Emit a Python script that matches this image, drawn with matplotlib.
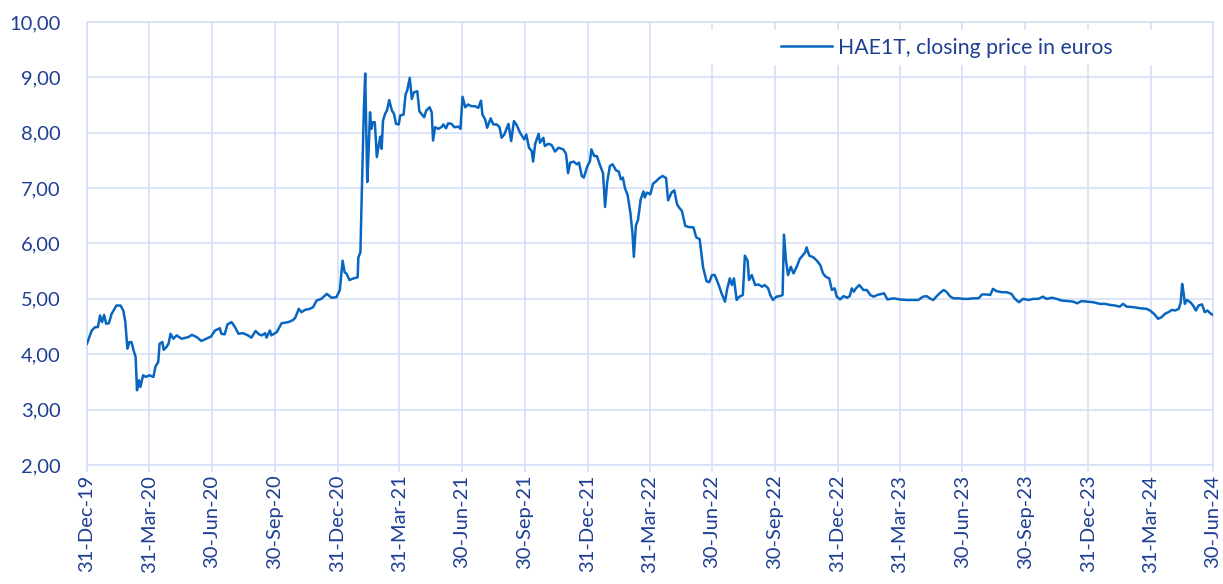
import numpy as np
import pandas as pd
import matplotlib
matplotlib.use("Agg")
import matplotlib.pyplot as plt
import matplotlib.dates as mdates
from matplotlib.patches import Rectangle
from matplotlib.ticker import FuncFormatter

# Days since 31-Dec-2019 and closing price (EUR)
days = [0, 7, 12, 16, 19, 22, 25, 28, 32, 36, 43, 49, 53, 56, 59, 62, 65, 68, 71, 73,
        76, 78, 82, 86, 91, 97, 100, 104, 106, 110, 112, 116, 119, 122, 126, 131, 138, 148, 153, 160,
        167, 174, 181, 187, 194, 196, 201, 205, 211, 216, 221, 228, 235, 240, 246, 251, 255, 260, 262, 267,
        269, 277, 284, 294, 301, 304, 309, 313, 318, 325, 330, 335, 342, 350, 357, 364, 369, 373, 376, 379,
        383, 389, 395, 396, 399, 401, 404, 406, 409, 411, 413, 415, 417, 420, 423, 426, 428, 430, 432, 435,
        438, 441, 445, 448, 451, 455, 457, 462, 465, 467, 471, 474, 477, 482, 485, 488, 492, 495, 500, 503,
        505, 508, 513, 518, 520, 524, 527, 532, 536, 542, 545, 548, 552, 556, 561, 566, 571, 575, 577, 581,
        584, 589, 593, 598, 602, 605, 609, 615, 619, 623, 627, 632, 638, 641, 645, 649, 651, 654, 659, 661,
        666, 668, 673, 678, 683, 688, 695, 699, 702, 705, 710, 715, 718, 722, 725, 730, 734, 736, 740, 744,
        749, 753, 756, 759, 763, 767, 772, 776, 779, 782, 785, 789, 793, 796, 798, 801, 804, 808, 812, 814,
        817, 822, 826, 831, 835, 840, 845, 848, 853, 857, 861, 864, 868, 873, 877, 885, 889, 894, 896, 899,
        904, 908, 912, 916, 921, 926, 931, 934, 938, 941, 944, 948, 952, 957, 960, 964, 966, 970, 975, 980,
        985, 989, 994, 997, 1001, 1006, 1011, 1015, 1017, 1020, 1023, 1027, 1031, 1036, 1040, 1044, 1048, 1050, 1054, 1060,
        1065, 1070, 1074, 1078, 1083, 1087, 1091, 1094, 1099, 1104, 1109, 1113, 1116, 1119, 1122, 1127, 1133, 1138, 1143, 1148,
        1153, 1160, 1163, 1168, 1177, 1186, 1196, 1206, 1213, 1220, 1225, 1231, 1235, 1240, 1245, 1250, 1254, 1259, 1264, 1271,
        1279, 1286, 1293, 1301, 1306, 1313, 1318, 1322, 1327, 1335, 1342, 1349, 1354, 1360, 1366, 1374, 1381, 1388, 1395, 1400,
        1408, 1415, 1422, 1432, 1439, 1445, 1451, 1460, 1468, 1478, 1485, 1493, 1500, 1507, 1512, 1517, 1527, 1537, 1546, 1551,
        1557, 1563, 1568, 1573, 1578, 1583, 1588, 1593, 1596, 1598, 1600, 1602, 1605, 1610, 1614, 1618, 1622, 1627, 1631, 1635,
        1639, 1643]
price = [4.19, 4.43, 4.49, 4.49, 4.70, 4.58, 4.71, 4.55, 4.56, 4.73, 4.88, 4.88, 4.79, 4.58, 4.10, 4.22, 4.22, 4.07, 3.95, 3.35,
         3.53, 3.41, 3.62, 3.59, 3.62, 3.59, 3.78, 3.86, 4.19, 4.22, 4.08, 4.13, 4.19, 4.37, 4.28, 4.34, 4.28, 4.31, 4.35, 4.31,
         4.24, 4.28, 4.32, 4.43, 4.47, 4.37, 4.36, 4.54, 4.58, 4.49, 4.37, 4.38, 4.34, 4.30, 4.42, 4.36, 4.34, 4.38, 4.30, 4.43,
         4.34, 4.40, 4.56, 4.58, 4.62, 4.66, 4.82, 4.76, 4.80, 4.82, 4.85, 4.97, 5.00, 5.09, 5.02, 5.03, 5.16, 5.69, 5.48, 5.45,
         5.34, 5.37, 5.39, 5.75, 5.84, 6.90, 8.40, 9.07, 7.11, 7.68, 8.37, 8.07, 8.19, 8.19, 7.56, 7.80, 7.93, 7.71, 8.22, 8.34,
         8.41, 8.59, 8.40, 8.34, 8.16, 8.15, 8.31, 8.33, 8.70, 8.75, 8.99, 8.61, 8.73, 8.75, 8.39, 8.34, 8.28, 8.40, 8.46, 8.37,
         7.86, 8.10, 8.07, 8.11, 8.15, 8.08, 8.17, 8.16, 8.10, 8.11, 8.07, 8.65, 8.46, 8.51, 8.48, 8.48, 8.45, 8.58, 8.33, 8.24,
         8.09, 8.26, 8.15, 8.15, 8.10, 7.91, 7.97, 8.16, 7.85, 8.21, 8.14, 8.00, 7.88, 7.97, 7.73, 7.67, 7.48, 7.80, 7.98, 7.82,
         7.91, 7.76, 7.80, 7.78, 7.66, 7.73, 7.70, 7.62, 7.27, 7.46, 7.48, 7.43, 7.46, 7.22, 7.19, 7.39, 7.49, 7.70, 7.58, 7.58,
         7.40, 7.27, 6.66, 7.10, 7.40, 7.43, 7.32, 7.30, 7.16, 7.19, 7.00, 6.87, 6.55, 6.18, 5.76, 6.33, 6.42, 6.80, 6.94, 6.83,
         6.92, 6.89, 7.08, 7.13, 7.18, 7.22, 7.18, 6.78, 6.92, 6.96, 6.71, 6.65, 6.59, 6.32, 6.30, 6.29, 6.11, 6.08, 5.87, 5.57,
         5.32, 5.30, 5.43, 5.43, 5.28, 5.10, 4.95, 5.17, 5.37, 5.25, 5.37, 4.98, 5.04, 5.07, 5.78, 5.69, 5.34, 5.43, 5.25, 5.26,
         5.22, 5.25, 5.19, 5.07, 4.98, 5.04, 5.05, 5.07, 6.16, 5.69, 5.43, 5.58, 5.46, 5.59, 5.72, 5.78, 5.84, 5.93, 5.78, 5.75,
         5.69, 5.61, 5.46, 5.40, 5.37, 5.16, 5.19, 5.04, 4.99, 5.05, 5.02, 5.05, 5.19, 5.13, 5.19, 5.25, 5.16, 5.16, 5.07, 5.04,
         5.07, 5.09, 5.10, 4.99, 5.01, 4.99, 4.98, 4.98, 4.98, 5.04, 5.05, 5.00, 4.98, 5.05, 5.11, 5.16, 5.13, 5.05, 5.01, 5.01,
         5.00, 5.00, 5.01, 5.01, 5.08, 5.08, 5.07, 5.18, 5.14, 5.12, 5.12, 5.09, 5.00, 4.94, 5.00, 4.98, 5.00, 5.00, 5.04, 5.00,
         5.02, 5.00, 4.97, 4.96, 4.95, 4.92, 4.96, 4.95, 4.94, 4.91, 4.91, 4.89, 4.88, 4.86, 4.91, 4.86, 4.85, 4.83, 4.82, 4.79,
         4.73, 4.64, 4.67, 4.73, 4.76, 4.80, 4.79, 4.82, 4.94, 5.27, 5.12, 4.91, 4.98, 4.94, 4.88, 4.79, 4.88, 4.90, 4.76, 4.79,
         4.74, 4.71]

series_label = "HAE1T, closing price in euros"
start = pd.Timestamp("2019-12-31")
end = pd.Timestamp("2024-06-30")
quarter_ticks = pd.date_range(start, end, freq="QE")

dates = start + pd.to_timedelta(days, unit="D")

text_color = "#1f3f93"
grid_color = "#d5e0f7"
line_color = "#0866c0"

plt.rcParams['font.family'] = ['Lato', 'DejaVu Sans']

fig = plt.figure(figsize=(12.23, 5.84), dpi=100)
ax = fig.add_axes([0.0711, 0.2038, 0.9207, 0.7585])

ax.plot(dates, price, color=line_color, linewidth=1.8, label=series_label, zorder=3)

ax.set_xlim(start, end)
ax.set_ylim(2, 10)
ax.set_yticks(np.arange(2, 10.5, 1))
ax.yaxis.set_major_formatter(FuncFormatter(lambda v, p: f"{v:.2f}".replace(".", ",")))
ax.set_xticks(quarter_ticks)
ax.xaxis.set_major_formatter(mdates.DateFormatter("%d-%b-%y"))

ax.grid(True, color=grid_color, linewidth=1.2, zorder=0)
ax.set_axisbelow(True)
for s in ax.spines.values():
    s.set_color(grid_color)
    s.set_linewidth(1.2)

ax.tick_params(axis="y", length=0, pad=19, labelsize=14.5, labelcolor=text_color)
ax.tick_params(axis="x", length=5, width=1.2, color=grid_color, pad=2,
               labelsize=14.5, labelcolor=text_color, labelrotation=90)

# white box behind legend, like the Excel original
ax.add_patch(Rectangle((0.549, 0.903), 0.44, 0.079, transform=ax.transAxes,
                       facecolor="white", edgecolor="none", zorder=1))
leg = ax.legend(loc="center left", bbox_to_anchor=(0.607, 0.942), frameon=False,
                fontsize=15.3, handlelength=2.4, handletextpad=0.28, borderpad=0)
for t in leg.get_texts():
    t.set_color(text_color)

fig.savefig("out.png", dpi=100)
